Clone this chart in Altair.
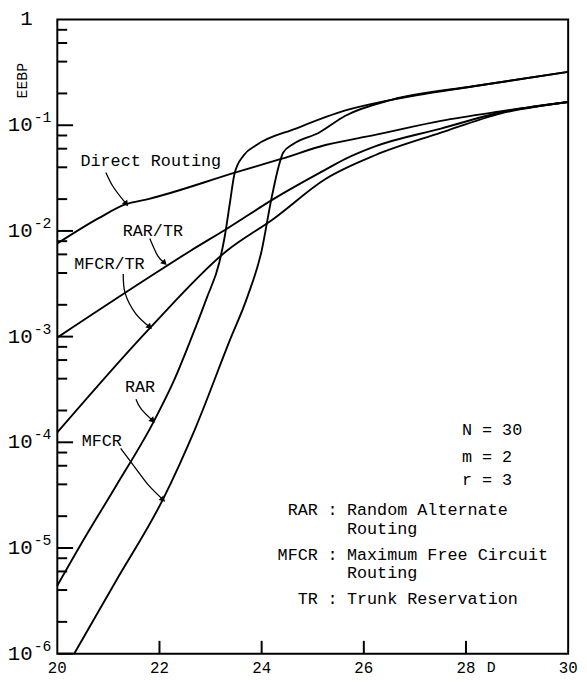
import altair as alt
import pandas as pd

# ---------------- curve data (D, EEBP) ----------------
D_DIRECT = [20.0, 20.81, 21.33, 21.78, 23.51, 24.38, 25.25, 26.22, 27.51, 28.67, 30.0]
V_DIRECT = [7.6e-3, 1.32e-2, 1.78e-2, 2.0e-2, 3.6e-2, 4.8e-2, 6.5e-2, 8.1e-2, 0.110, 0.135, 0.166]

D_RARTR = [20.0, 21.78, 22.61, 23.32, 24.23, 25.25, 25.64, 26.22, 27.51, 28.67, 30.0]
V_RARTR = [9.8e-4, 3.6e-3, 6.5e-3, 1.05e-2, 2.0e-2, 3.8e-2, 4.8e-2, 6.3e-2, 9.3e-2, 0.132, 0.166]

D_MFCRTR = [20.0, 21.83, 23.32, 24.23, 25.25, 26.22, 27.51, 28.67, 30.0]
V_MFCRTR = [1.24e-4, 1.23e-3, 6.5e-3, 1.3e-2, 3.1e-2, 5.2e-2, 8.5e-2, 0.129, 0.166]

D_RAR = [20.0, 20.48, 21.14, 21.89, 22.30, 22.61, 22.93, 23.17, 23.28, 23.38,
         23.47, 23.65, 23.90, 24.67, 25.64, 26.54, 28.15, 30.0]
V_RAR = [4.4e-6, 1.12e-5, 3.8e-5, 1.58e-4, 4.0e-4, 9.3e-4, 2.35e-3, 5.0e-3, 9.0e-3,
         1.86e-2, 3.5e-2, 5.2e-2, 6.5e-2, 9.3e-2, 0.138, 0.174, 0.234, 0.32]

D_MFCR = [20.33, 21.14, 22.07, 22.70, 23.38, 23.71, 24.00, 24.19, 24.34, 24.42, 24.61,
          25.12, 25.64, 26.54, 28.15, 30.0]
V_MFCR = [1.0e-6, 4.8e-6, 2.9e-5, 1.35e-4, 9.3e-4, 2.3e-3, 6.5e-3, 2.0e-2, 4.2e-2, 5.5e-2,
          6.6e-2, 8.5e-2, 0.123, 0.174, 0.234, 0.32]

# axis ticks / labels
X_LABELS = [20, 22, 24, 26, 28, 30]
X_TICKS = [22, 24, 26, 28]
Y_MAJOR = [1e-6, 1e-5, 1e-4, 1e-3, 1e-2, 1e-1]
Y_MINOR_MANT = [2, 4, 6, 8]
Y_LABEL_VALUES = [1, 1e-1, 1e-2, 1e-3, 1e-4, 1e-5, 1e-6]
Y_LABEL_BASE = ["1", "10", "10", "10", "10", "10", "10"]
Y_LABEL_EXP = ["", "-1", "-2", "-3", "-4", "-5", "-6"]

# curve labels and their arrows
LABEL_TEXT = ["Direct Routing", "RAR/TR", "MFCR/TR", "RAR", "MFCR"]
LABEL_D = [21.83, 21.87, 21.02, 21.62, 20.87]
LABEL_V = [4.6e-2, 1.0e-2, 4.9e-3, 3.3e-4, 1.03e-4]

ARROW_D = [[20.95, 21.10, 21.35],
           [21.81, 21.97, 22.10],
           [21.29, 21.33, 21.53, 21.81],
           [21.54, 21.64, 21.87],
           [21.24, 21.53, 21.78, 22.07]]
ARROW_V = [[3.58e-2, 2.59e-2, 1.80e-2],
           [8.5e-3, 5.77e-3, 4.97e-3],
           [3.92e-3, 2.55e-3, 1.66e-3, 1.23e-3],
           [2.56e-4, 2.07e-4, 1.60e-4],
           [8.75e-5, 5.70e-5, 3.95e-5, 2.86e-5]]
ARROW_HEAD_ANGLE = [144, 135, 133, 135, 135]

# parameter block
PARAM_TEXT = ["N = 30", "m = 2", "r = 3"]
PARAM_V = [1.30e-4, 7.3e-5, 4.35e-5]
PARAM_D = 27.92

ABBR = ["RAR", "", "MFCR", "", "TR"]
COLON = [":", "", ":", "", ":"]
DESC = ["Random Alternate", "Routing", "Maximum Free Circuit", "Routing", "Trunk Reservation"]
DESC_V = [2.28e-5, 1.50e-5, 8.6e-6, 5.8e-6, 3.27e-6]
ABBR_D = 25.10
COLON_D = 25.39
DESC_D = 25.67

# ---------------- build tables ----------------
rows = []
for name, ds, vs in [("Direct Routing", D_DIRECT, V_DIRECT), ("RAR/TR", D_RARTR, V_RARTR),
                     ("MFCR/TR", D_MFCRTR, V_MFCRTR), ("RAR", D_RAR, V_RAR), ("MFCR", D_MFCR, V_MFCR)]:
    for i, (d, v) in enumerate(zip(ds, vs)):
        rows.append({"series": name, "i": i, "D": d, "EEBP": v})
curves = pd.DataFrame(rows)

arrow_rows, head_rows = [], []
for k, (ds, vs) in enumerate(zip(ARROW_D, ARROW_V)):
    for i, (d, v) in enumerate(zip(ds, vs)):
        arrow_rows.append({"a": k, "i": i, "D": d, "EEBP": v})
    head_rows.append({"D": ds[-1], "EEBP": vs[-1], "ang": ARROW_HEAD_ANGLE[k]})
arrows = pd.DataFrame(arrow_rows)
heads = pd.DataFrame(head_rows)

labels = pd.DataFrame({"text": LABEL_TEXT, "D": LABEL_D, "EEBP": LABEL_V})
params = pd.DataFrame({"text": PARAM_TEXT, "D": [PARAM_D] * 3, "EEBP": PARAM_V})
legend = pd.DataFrame({"abbr": ABBR, "colon": COLON, "desc": DESC, "EEBP": DESC_V,
                       "Da": [ABBR_D] * 5, "Dc": [COLON_D] * 5, "Dd": [DESC_D] * 5})

ymajor = pd.DataFrame({"EEBP": Y_MAJOR})
yminor = pd.DataFrame({"EEBP": [m * t for t in Y_MAJOR for m in Y_MINOR_MANT]})
xticks = pd.DataFrame({"D": X_TICKS})
xlab = pd.DataFrame({"D": X_LABELS, "t": [str(v) for v in X_LABELS]})
ylab = pd.DataFrame({"EEBP": Y_LABEL_VALUES, "base": Y_LABEL_BASE, "exp": Y_LABEL_EXP})

W, H = 518, 643
FONT = "Liberation Mono"

xs = alt.Scale(domain=[20, 30], nice=False, zero=False)
ys = alt.Scale(type="log", domain=[1e-6, 1], nice=False)


def X(field="D"):
    return alt.X(f"{field}:Q", scale=xs, axis=None)


def Y(field="EEBP"):
    return alt.Y(f"{field}:Q", scale=ys, axis=None)


lines = alt.Chart(curves).mark_line(color="black", strokeWidth=1.9, interpolate="monotone").encode(
    x=X(), y=Y(), detail="series:N", order="i:Q")

arrow_lines = alt.Chart(arrows).mark_line(color="black", strokeWidth=1.3, interpolate="cardinal").encode(
    x=X(), y=Y(), detail="a:N", order="i:Q")
arrow_heads = alt.Chart(heads).mark_point(shape="triangle-up", filled=True, color="black",
                                          size=45, opacity=1).encode(
    x=X(), y=Y(), angle=alt.Angle("ang:Q", scale=None))

label_text = alt.Chart(labels).mark_text(font=FONT, fontSize=17, color="black").encode(
    x=X(), y=Y(), text="text:N")

param_text = alt.Chart(params).mark_text(font=FONT, fontSize=17, color="black", align="left").encode(
    x=X(), y=Y(), text="text:N")
abbr_text = alt.Chart(legend).mark_text(font=FONT, fontSize=17, color="black", align="right").encode(
    x=X("Da"), y=Y(), text="abbr:N")
colon_text = alt.Chart(legend).mark_text(font=FONT, fontSize=17, color="black", align="center").encode(
    x=X("Dc"), y=Y(), text="colon:N")
desc_text = alt.Chart(legend).mark_text(font=FONT, fontSize=17, color="black", align="left").encode(
    x=X("Dd"), y=Y(), text="desc:N")

major_ticks = alt.Chart(ymajor).mark_rule(color="black", strokeWidth=2).encode(
    y=Y(), x=alt.value(0), x2=alt.value(16))
minor_ticks = alt.Chart(yminor).mark_rule(color="black", strokeWidth=2).encode(
    y=Y(), x=alt.value(0), x2=alt.value(10))
x_ticks = alt.Chart(xticks).mark_rule(color="black", strokeWidth=2).encode(
    x=X(), y=alt.value(H), y2=alt.value(H - 13))

x_labels = alt.Chart(xlab).mark_text(font=FONT, fontSize=16, color="black", baseline="middle").encode(
    x=X(), y=alt.value(H + 15), text="t:N")

ybase = alt.Chart(ylab).mark_text(font=FONT, fontSize=21, color="black", align="right",
                                  baseline="middle").encode(
    y=Y(), x=alt.value(-25), text="base:N")
yexp = alt.Chart(ylab).mark_text(font=FONT, fontSize=15, color="black", align="left",
                                 baseline="middle", dy=-8).encode(
    y=Y(), x=alt.value(-24), text="exp:N")

ytitle = alt.Chart(pd.DataFrame({"t": ["EEBP"]})).mark_text(
    font=FONT, fontSize=15, color="black", angle=270).encode(
    x=alt.value(-36), y=alt.value(62), text="t:N")
xtitle = alt.Chart(pd.DataFrame({"t": ["D"]})).mark_text(
    font=FONT, fontSize=15, color="black").encode(
    x=alt.value(440), y=alt.value(657), text="t:N")

chart = alt.layer(
    lines, arrow_lines, arrow_heads, label_text, param_text, abbr_text, colon_text, desc_text,
    major_ticks, minor_ticks, x_ticks, x_labels, ybase, yexp, ytitle, xtitle
).properties(
    width=W, height=H,
    autosize=alt.AutoSizeParams(type="none"),
    padding={"left": 50, "top": 7, "right": 11, "bottom": 24},
).configure(
    background="white",
    view=alt.ViewConfig(stroke="black", strokeWidth=2),
)

chart.save("out.html", embed_options={"renderer": "svg", "actions": False})
